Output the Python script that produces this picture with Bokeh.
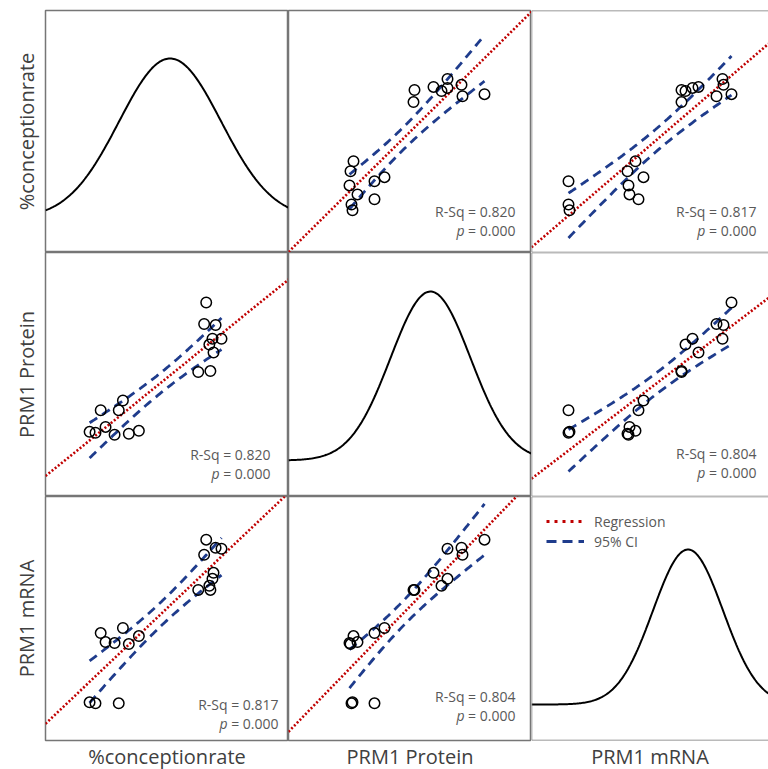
import numpy as np
from bokeh.plotting import figure
from bokeh.layouts import gridplot
from bokeh.models import Range1d, LinearAxis, FixedTicker, Span, Legend, LegendItem
from bokeh.core.properties import value
from bokeh.embed import file_html
from bokeh.resources import INLINE

# ---------------- data ----------------
var_labels = ["%conceptionrate", "PRM1 Protein", "PRM1 mRNA"]
conception_rate = [56.9, 54.0, 52.3, 51.1, 49.9, 47.3, 45.9, 44.4, 42.7,
                   80.7, 79.0, 78.4, 78.1, 77.5, 77.2, 76.3, 75.7, 74.0]
prm1_protein = [0.65, 0.62, 0.96, 0.86, 0.61, 0.69, 0.86, 0.63, 0.64,
                1.59, 1.73, 1.45, 1.59, 1.26, 1.53, 1.96, 1.74, 1.25]
prm1_mrna = [1.04, 0.96, 1.12, 0.37, 0.97, 0.98, 1.07, 0.37, 0.38,
             1.91, 1.92, 1.67, 1.61, 1.50, 1.54, 2.00, 1.85, 1.50]
rsq_labels = {(0, 1): "R-Sq = 0.820", (0, 2): "R-Sq = 0.817", (1, 2): "R-Sq = 0.804"}
p_value_label = "= 0.000"
fit_mean = [65.9, 1.42, 1.565]   # fitted normal curves on the diagonal
fit_sd = [14.7, 0.40, 0.35]
legend_labels = ["Regression", "95% CI"]
t_975_df16 = 2.120

data = [np.array(conception_rate), np.array(prm1_protein), np.array(prm1_mrna)]

# ---------------- layout / style ----------------
frame_w = [243, 243, 237]
frame_h = [242, 244, 244]
x_ranges = [(30, 100), (0, 2.43), (0, 2.37)]
y_ranges = [(30.5, 100.5), (-0.02, 2.47), (0, 2.43)]
pdf_pad = [(-0.2125, 1.30), (-0.213, 1.231), (-0.232, 1.342)]
text_pos = {(0, 1): (0.934, 0.169, 0.091), (0, 2): (0.949, 0.169, 0.091),
            (1, 0): (0.926, 0.172, 0.094), (1, 2): (0.949, 0.176, 0.098),
            (2, 0): (0.959, 0.148, 0.070), (2, 1): (0.934, 0.180, 0.102)}
RED = "#C00000"
BLUE = "#1F3C8C"
BORDER = "#767676"
FONT = "Open Sans"

figs = []
for i in range(3):
    row = []
    for j in range(3):
        if i == j:
            pk = 1.0 / (fit_sd[i] * np.sqrt(2 * np.pi))
            yr = (pdf_pad[i][0] * pk, pdf_pad[i][1] * pk)
        else:
            yr = y_ranges[i]
        p = figure(frame_width=frame_w[j], frame_height=frame_h[i],
                   x_range=Range1d(*x_ranges[j]), y_range=Range1d(*yr),
                   output_backend="svg", toolbar_location=None,
                   x_axis_location=None, y_axis_location=None,
                   min_border_left=45 if j == 0 else 0, min_border_right=0,
                   min_border_top=10 if i == 0 else 0,
                   min_border_bottom=29 if i == 2 else 0,
                   background_fill_color="white", border_fill_color="white")
        p.grid.visible = False
        if j == 2:
            p.outline_line_color = None
            for loc, dim in [(yr[0], "width"), (yr[1], "width"), (x_ranges[j][0], "height")]:
                p.add_layout(Span(location=loc, dimension=dim, line_color=BORDER, line_width=1.5))
        else:
            p.outline_line_color = BORDER
            p.outline_line_width = 1.5

        def mk_axis(label, standoff):
            ax = LinearAxis(axis_label=label, ticker=FixedTicker(ticks=[]))
            ax.axis_line_color = None
            ax.major_tick_line_color = None
            ax.minor_tick_line_color = None
            ax.major_tick_out = 0
            ax.major_tick_in = 0
            ax.major_label_standoff = 0
            ax.major_label_text_font_size = "0px"
            ax.axis_label_text_font = FONT
            ax.axis_label_text_font_size = "20px"
            ax.axis_label_text_font_style = "normal"
            ax.axis_label_text_color = "#404040"
            ax.axis_label_standoff = standoff
            return ax

        if j == 0:
            p.add_layout(mk_axis(var_labels[i], 6), "left")
        if i == 2:
            p.add_layout(mk_axis(var_labels[j], 2), "below")

        if i == j:
            xs = np.linspace(x_ranges[j][0], x_ranges[j][1], 200)
            ys = np.exp(-0.5 * ((xs - fit_mean[i]) / fit_sd[i]) ** 2) / (fit_sd[i] * np.sqrt(2 * np.pi))
            p.line(xs, ys, line_color="black", line_width=2)
        else:
            x = data[j]
            y = data[i]
            n = len(x)
            b1, b0 = np.polyfit(x, y, 1)
            xbar = x.mean()
            sxx = ((x - xbar) ** 2).sum()
            s = np.sqrt(((y - (b0 + b1 * x)) ** 2).sum() / (n - 2))
            xc = np.linspace(x.min(), x.max(), 80)
            yc = b0 + b1 * xc
            half = t_975_df16 * s * np.sqrt(1.0 / n + (xc - xbar) ** 2 / sxx)
            p.line(xc, yc + half, line_color=BLUE, line_width=2.8, line_dash="9 6")
            p.line(xc, yc - half, line_color=BLUE, line_width=2.8, line_dash="9 6")
            xl = np.array(x_ranges[j], dtype=float)
            p.line(xl, b0 + b1 * xl, line_color=RED, line_width=2.6, line_dash="2 2")
            p.scatter(x, y, marker="circle", size=10.5, fill_color=None,
                      line_color="black", line_width=1.5)
            key = (min(i, j), max(i, j))
            fx, fy1, fy2 = text_pos[(i, j)]
            x0, x1 = x_ranges[j]
            y0, y1 = yr
            tx = x0 + fx * (x1 - x0)
            p.text(x=[tx], y=[y0 + fy1 * (y1 - y0)], text=[rsq_labels[key]],
                   text_align="right", text_baseline="middle",
                   text_font=value(FONT), text_font_size="14px", text_color="#595959")
            p.text(x=[tx], y=[y0 + fy2 * (y1 - y0)], text=[p_value_label],
                   text_align="right", text_baseline="middle",
                   text_font=value(FONT), text_font_size="14px", text_color="#595959")
            p.text(x=[tx], y=[y0 + fy2 * (y1 - y0)], text=["p"], x_offset=-51,
                   text_align="right", text_baseline="middle", text_font_style="italic",
                   text_font=value(FONT), text_font_size="14px", text_color="#595959")
        if i == 2 and j == 2:
            r1 = p.line([np.nan, np.nan], [np.nan, np.nan], line_color=RED, line_width=3.2, line_dash="3 5")
            r2 = p.line([np.nan, np.nan], [np.nan, np.nan], line_color=BLUE, line_width=3.2, line_dash="10 6")
            leg = Legend(items=[LegendItem(label=legend_labels[0], renderers=[r1]),
                                LegendItem(label=legend_labels[1], renderers=[r2])],
                         location="top_left", border_line_color=None,
                         background_fill_alpha=0, label_text_font=FONT,
                         label_text_font_size="14px", label_text_color="#595959",
                         glyph_width=38, glyph_height=20, label_height=20,
                         label_standoff=10, spacing=0, margin=15, padding=0)
            p.add_layout(leg)
        row.append(p)
    figs.append(row)

grid = gridplot(figs, toolbar_location=None)
open("out.html", "w").write(file_html(grid, INLINE))
